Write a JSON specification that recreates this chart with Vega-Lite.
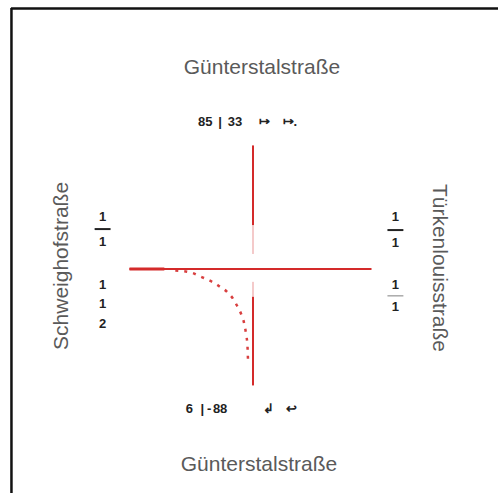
{
  "$schema": "https://vega.github.io/schema/vega-lite/v6.json",
  "width": 500,
  "height": 495,
  "autosize": {"type": "fit", "contains": "padding"},
  "padding": 0,
  "background": "white",
  "config": {"view": {"stroke": null}},
  "datasets": {
    "frame": [
      {"x": 11, "y": 8.5, "x2": 500, "y2": 8.5},
      {"x": 11.5, "y": 8, "x2": 11.5, "y2": 495}
    ],
    "roads": [
      {"x": 130, "y": 270, "x2": 373, "y2": 270},
      {"x": 254, "y": 146, "x2": 254, "y2": 226},
      {"x": 254, "y": 298, "x2": 254, "y2": 387}
    ],
    "faint": [
      {"x": 254, "y": 226, "x2": 254, "y2": 255},
      {"x": 254, "y": 283, "x2": 254, "y2": 298}
    ],
    "thick": [
      {"x": 130, "y": 270, "x2": 165, "y2": 270}
    ],
    "curve": [
      {"i": 0, "x": 176, "y": 271.5},
      {"i": 1, "x": 193, "y": 274},
      {"i": 2, "x": 202, "y": 278},
      {"i": 3, "x": 209, "y": 281},
      {"i": 4, "x": 215, "y": 284},
      {"i": 5, "x": 221, "y": 288},
      {"i": 6, "x": 228, "y": 293},
      {"i": 7, "x": 234, "y": 300},
      {"i": 8, "x": 238, "y": 307},
      {"i": 9, "x": 242, "y": 315},
      {"i": 10, "x": 245, "y": 324},
      {"i": 11, "x": 247, "y": 335},
      {"i": 12, "x": 248.5, "y": 348},
      {"i": 13, "x": 249, "y": 362}
    ],
    "titles": [
      {"x": 263, "y": 68, "t": "Günterstalstraße", "a": 0},
      {"x": 260, "y": 467, "t": "Günterstalstraße", "a": 0},
      {"x": 62, "y": 267, "t": "Schweighofstraße", "a": -90},
      {"x": 441, "y": 269, "t": "Türkenlouisstraße", "a": 90}
    ],
    "nums": [
      {"x": 206, "y": 122, "t": "85"},
      {"x": 221, "y": 122, "t": "|"},
      {"x": 236, "y": 122, "t": "33"},
      {"x": 266, "y": 122, "t": "↦"},
      {"x": 291, "y": 122, "t": "↦."},
      {"x": 190, "y": 411, "t": "6"},
      {"x": 203, "y": 411, "t": "|"},
      {"x": 210, "y": 411, "t": "-"},
      {"x": 221, "y": 411, "t": "88"},
      {"x": 270, "y": 411, "t": "↲"},
      {"x": 293, "y": 411, "t": "↩"},
      {"x": 103, "y": 218, "t": "1"},
      {"x": 103, "y": 243, "t": "1"},
      {"x": 103, "y": 286, "t": "1"},
      {"x": 103, "y": 305, "t": "1"},
      {"x": 103, "y": 325, "t": "2"},
      {"x": 397, "y": 218, "t": "1"},
      {"x": 397, "y": 244, "t": "1"},
      {"x": 397, "y": 286, "t": "1"},
      {"x": 397, "y": 308, "t": "1"}
    ],
    "bars": [
      {"x": 95, "x2": 111, "y": 230},
      {"x": 389, "x2": 405, "y": 231}
    ],
    "greybars": [
      {"x": 389, "x2": 405, "y": 297}
    ]
  },
  "encoding": {
    "x": {"type": "quantitative", "scale": {"domain": [0, 500], "nice": false, "zero": false}, "axis": null},
    "y": {"type": "quantitative", "scale": {"domain": [0, 495], "reverse": true, "nice": false, "zero": false}, "axis": null}
  },
  "layer": [
    {
      "data": {"name": "frame"},
      "mark": {"type": "rule", "color": "#111", "strokeWidth": 2.5},
      "encoding": {"x": {"field": "x", "type": "quantitative"}, "y": {"field": "y", "type": "quantitative"}, "x2": {"field": "x2"}, "y2": {"field": "y2"}}
    },
    {
      "data": {"name": "roads"},
      "mark": {"type": "rule", "color": "#d42a2a", "strokeWidth": 2},
      "encoding": {"x": {"field": "x", "type": "quantitative"}, "y": {"field": "y", "type": "quantitative"}, "x2": {"field": "x2"}, "y2": {"field": "y2"}}
    },
    {
      "data": {"name": "faint"},
      "mark": {"type": "rule", "color": "#d42a2a", "strokeWidth": 2, "opacity": 0.25},
      "encoding": {"x": {"field": "x", "type": "quantitative"}, "y": {"field": "y", "type": "quantitative"}, "x2": {"field": "x2"}, "y2": {"field": "y2"}}
    },
    {
      "data": {"name": "thick"},
      "mark": {"type": "rule", "color": "#d42a2a", "strokeWidth": 3},
      "encoding": {"x": {"field": "x", "type": "quantitative"}, "y": {"field": "y", "type": "quantitative"}, "x2": {"field": "x2"}, "y2": {"field": "y2"}}
    },
    {
      "data": {"name": "curve"},
      "mark": {"type": "line", "color": "#d42a2a", "strokeWidth": 2.5, "strokeDash": [3, 6], "interpolate": "monotone", "opacity": 0.9},
      "encoding": {"x": {"field": "x", "type": "quantitative"}, "y": {"field": "y", "type": "quantitative"}, "order": {"field": "i"}}
    },
    {
      "data": {"name": "bars"},
      "mark": {"type": "rule", "color": "#222", "strokeWidth": 2},
      "encoding": {"x": {"field": "x", "type": "quantitative"}, "x2": {"field": "x2"}, "y": {"field": "y", "type": "quantitative"}}
    },
    {
      "data": {"name": "greybars"},
      "mark": {"type": "rule", "color": "#aaa", "strokeWidth": 1.5},
      "encoding": {"x": {"field": "x", "type": "quantitative"}, "x2": {"field": "x2"}, "y": {"field": "y", "type": "quantitative"}}
    },
    {
      "data": {"name": "titles"},
      "mark": {"type": "text", "font": "Liberation Sans", "fontSize": 21, "color": "#5a5a5a", "align": "center", "baseline": "middle"},
      "encoding": {"x": {"field": "x", "type": "quantitative"}, "y": {"field": "y", "type": "quantitative"}, "text": {"field": "t"}, "angle": {"field": "a", "type": "quantitative", "scale": null}}
    },
    {
      "data": {"name": "nums"},
      "mark": {"type": "text", "font": "Liberation Sans", "fontSize": 13, "fontWeight": "bold", "color": "#222", "align": "center", "baseline": "middle"},
      "encoding": {"x": {"field": "x", "type": "quantitative"}, "y": {"field": "y", "type": "quantitative"}, "text": {"field": "t"}}
    }
  ]
}
